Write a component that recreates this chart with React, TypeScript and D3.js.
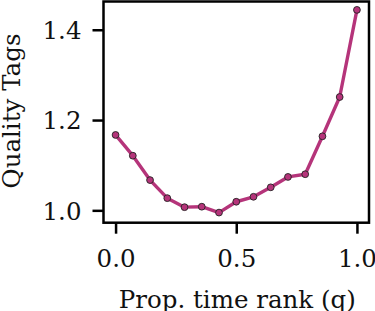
import React, { useEffect, useRef } from 'react';
import * as d3 from 'd3';

// proportion of time rank, 15 evenly spaced bins
const qValues = [0, 1 / 14, 2 / 14, 3 / 14, 4 / 14, 5 / 14, 6 / 14, 7 / 14, 8 / 14, 9 / 14, 10 / 14, 11 / 14, 12 / 14, 13 / 14, 1];
const tagValues = [1.167, 1.121, 1.067, 1.027, 1.007, 1.008, 0.995, 1.019, 1.03, 1.051, 1.074, 1.08, 1.164, 1.251, 1.444];
const xTicks = [0, 0.5, 1.0];
const yTicks = [1.0, 1.2, 1.4];

const App = () => {
  const ref = useRef<SVGSVGElement>(null);

  useEffect(() => {
    const width = 375;
    const height = 311;
    const left = 103.5, right = 369, top = 1.5, bottom = 222.7;
    const font = 'DejaVu Serif';
    const color = '#b5347a';

    const svg = d3.select(ref.current);
    svg.selectAll('*').remove();
    svg.attr('width', width).attr('height', height);

    const x = d3.scaleLinear().domain([-0.05, 1.05]).range([left, right]);
    const y = d3.scaleLinear().domain([0.9726, 1.4626]).range([bottom, top]);

    const xAxis = svg.append('g')
      .attr('transform', `translate(0,${bottom})`)
      .call(d3.axisBottom(x).tickValues(xTicks).tickFormat(d3.format('.1f')).tickSize(11));
    const yAxis = svg.append('g')
      .attr('transform', `translate(${left},0)`)
      .call(d3.axisLeft(y).tickValues(yTicks).tickFormat(d3.format('.1f')).tickSize(11).tickPadding(11));

    [xAxis, yAxis].forEach(g => {
      g.select('.domain').remove();
      g.selectAll('line').attr('stroke', '#000').attr('stroke-width', 2.5);
      g.selectAll('text').attr('font-family', font).attr('font-size', 24.5).attr('fill', '#111');
    });
    xAxis.selectAll('text').attr('y', 44).attr('dy', 0);
    yAxis.selectAll('text').attr('dy', '0.36em');

    // frame
    svg.append('rect')
      .attr('x', left).attr('y', top)
      .attr('width', right - left).attr('height', bottom - top)
      .attr('fill', 'none').attr('stroke', '#000').attr('stroke-width', 2.5);

    const pts = qValues.map((q, i) => [q, tagValues[i]] as [number, number]);
    const line = d3.line<[number, number]>().x(d => x(d[0])).y(d => y(d[1]));

    svg.append('path')
      .datum(pts)
      .attr('d', line)
      .attr('fill', 'none')
      .attr('stroke', color)
      .attr('stroke-width', 3.4)
      .attr('stroke-linejoin', 'round');

    svg.selectAll('circle.pt')
      .data(pts)
      .enter()
      .append('circle')
      .attr('class', 'pt')
      .attr('cx', d => x(d[0]))
      .attr('cy', d => y(d[1]))
      .attr('r', 3.4)
      .attr('fill', color)
      .attr('stroke', '#222')
      .attr('stroke-width', 0.9);

    svg.append('text')
      .attr('x', (left + right) / 2 + 1)
      .attr('y', 308)
      .attr('text-anchor', 'middle')
      .attr('font-family', font)
      .attr('font-size', 24.5)
      .attr('fill', '#111')
      .text('Prop. time rank (q)');

    svg.append('text')
      .attr('transform', `translate(20,111) rotate(-90)`)
      .attr('text-anchor', 'middle')
      .attr('font-family', font)
      .attr('font-size', 24.5)
      .attr('fill', '#111')
      .text('Quality Tags');
  }, []);

  return (
    <svg ref={ref} style={{ position: 'absolute', left: 0, top: 0, background: '#fff' }} />
  );
};

export default App;
